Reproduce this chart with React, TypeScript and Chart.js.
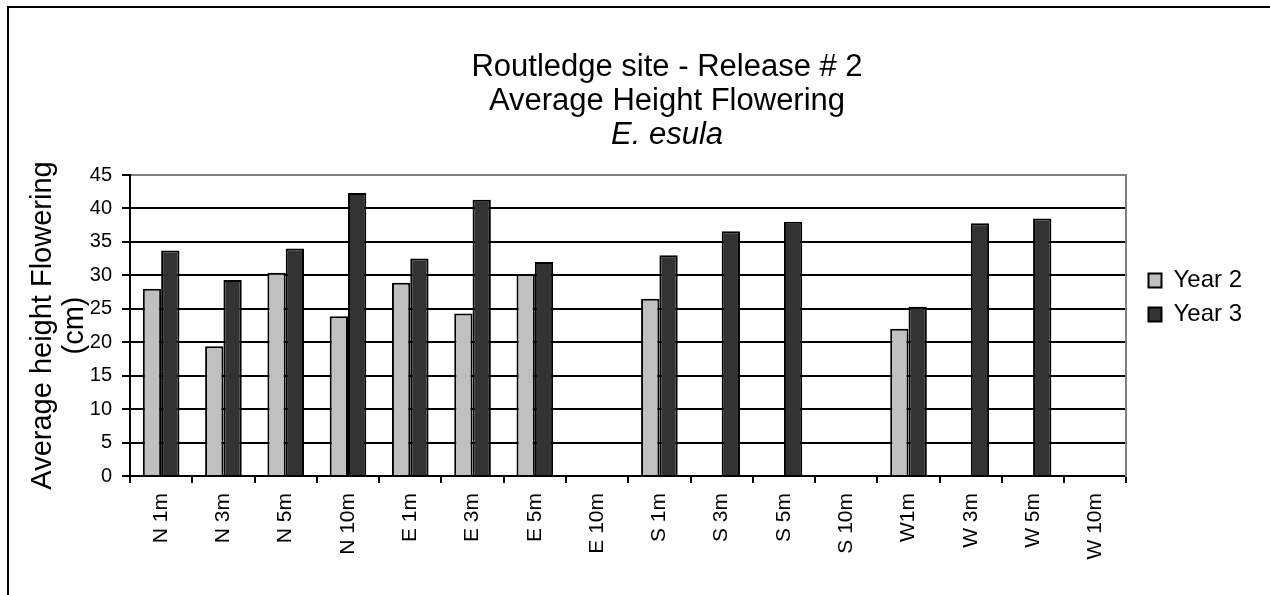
import React, { useEffect, useRef } from "react";
import { Chart, registerables } from "chart.js";

Chart.register(...registerables);

const categories = [
  "N 1m", "N 3m", "N 5m", "N 10m",
  "E 1m", "E 3m", "E 5m", "E 10m",
  "S 1m", "S 3m", "S 5m", "S 10m",
  "W1m", "W 3m", "W 5m", "W 10m",
];
const year2 = [28, 19.4, 30.4, 23.9, 28.9, 24.3, 30.2, null, 26.5, null, null, null, 22, null, null, null];
const year3 = [33.7, 29.3, 34, 42.3, 32.5, 41.3, 32, null, 33, 36.6, 38, null, 25.3, 37.8, 38.5, null];
const titleLines = ["Routledge site - Release # 2", "Average Height Flowering"];
const subtitleText = "E. esula";
const yTitleLines = ["Average height Flowering", "(cm)"];
const seriesNames = ["Year 2", "Year 3"];

const FONT = "'Liberation Sans', Arial, Helvetica, sans-serif";
const LEFT_PAD = 82;

const framePlugin = {
  id: "frame",
  beforeDraw(chart: any) {
    const ctx = chart.ctx;
    ctx.save();
    ctx.fillStyle = "#ffffff";
    ctx.fillRect(0, 0, chart.width, chart.height);
    ctx.strokeStyle = "#000000";
    ctx.lineWidth = 2;
    ctx.beginPath();
    ctx.moveTo(8, chart.height + 10);
    ctx.lineTo(8, 7);
    ctx.lineTo(chart.width + 10, 7);
    ctx.stroke();
    ctx.restore();
  },
};

export default function App() {
  const ref = useRef<HTMLCanvasElement | null>(null);
  useEffect(() => {
    if (!ref.current) return;
    Chart.defaults.color = "#000000";
    const chart = new Chart(ref.current, {
      type: "bar",
      data: {
        labels: categories,
        datasets: [
          {
            label: seriesNames[0],
            data: year2,
            backgroundColor: "#C0C0C0",
            borderColor: "#000000",
            borderWidth: 2,
            categoryPercentage: 0.588,
            barPercentage: 1,
          },
          {
            label: seriesNames[1],
            data: year3,
            backgroundColor: "#333333",
            borderColor: "#000000",
            borderWidth: 2,
            categoryPercentage: 0.588,
            barPercentage: 1,
          },
        ],
      },
      options: {
        responsive: false,
        animation: false,
        layout: { padding: { left: LEFT_PAD, right: 18, top: 0, bottom: 0 } },
        plugins: {
          tooltip: { enabled: false },
          title: {
            display: true,
            text: titleLines,
            color: "#000",
            font: { family: FONT, size: 31, weight: "normal", lineHeight: 34 / 31 },
            padding: { top: 50, bottom: 0 },
          },
          subtitle: {
            display: true,
            text: subtitleText,
            color: "#000",
            font: { family: FONT, size: 31, weight: "normal", style: "italic", lineHeight: 34 / 31 },
            padding: { top: 0, bottom: 23 },
          },
          legend: {
            display: true,
            position: "right",
            labels: {
              color: "#000",
              font: { family: FONT, size: 24 },
              boxWidth: 13,
              boxHeight: 14,
              padding: 10,
            },
          },
        },
        scales: {
          x: {
            grid: {
              display: true,
              drawOnChartArea: false,
              drawTicks: true,
              tickLength: 7,
              color: "#000",
              lineWidth: 2,
              offset: true,
            },
            border: { display: true, color: "#000", width: 2 },
            ticks: {
              autoSkip: false,
              minRotation: 90,
              maxRotation: 90,
              padding: 10,
              color: "#000",
              font: { family: FONT, size: 21 },
            },
            afterFit: (s: any) => {
              s.height = 119;
            },
          },
          y: {
            position: "left",
            min: 0,
            max: 45,
            ticks: {
              stepSize: 5,
              padding: 10,
              color: "#000",
              font: { family: FONT, size: 20 },
            },
            grid: {
              drawTicks: true,
              tickLength: 8,
              lineWidth: 2,
              color: (c: any) => (c.tick && c.tick.value === 45 ? "#808080" : "#000000"),
              tickColor: "#000000",
            },
            border: { display: true, color: "#000", width: 2 },
            title: {
              display: true,
              text: yTitleLines,
              color: "#000",
              font: { family: FONT, size: 29, lineHeight: 32 / 29 },
              padding: { top: 27 - LEFT_PAD, bottom: 0 },
            },
            afterFit: (s: any) => {
              s.width = 130 - LEFT_PAD;
            },
          },
          y2: {
            type: "linear",
            position: "right",
            display: true,
            grid: { drawOnChartArea: false, drawTicks: false },
            ticks: { display: false },
            border: { display: true, color: "#808080", width: 2 },
            afterFit: (s: any) => {
              s.width = 12;
            },
          },
        },
      },
      plugins: [framePlugin],
    });
    return () => chart.destroy();
  }, []);

  return (
    <div style={{ position: "fixed", left: 0, top: 0, width: 1270, height: 595, background: "#fff" }}>
      <canvas ref={ref} width={1270} height={595} style={{ display: "block" }} />
    </div>
  );
}
